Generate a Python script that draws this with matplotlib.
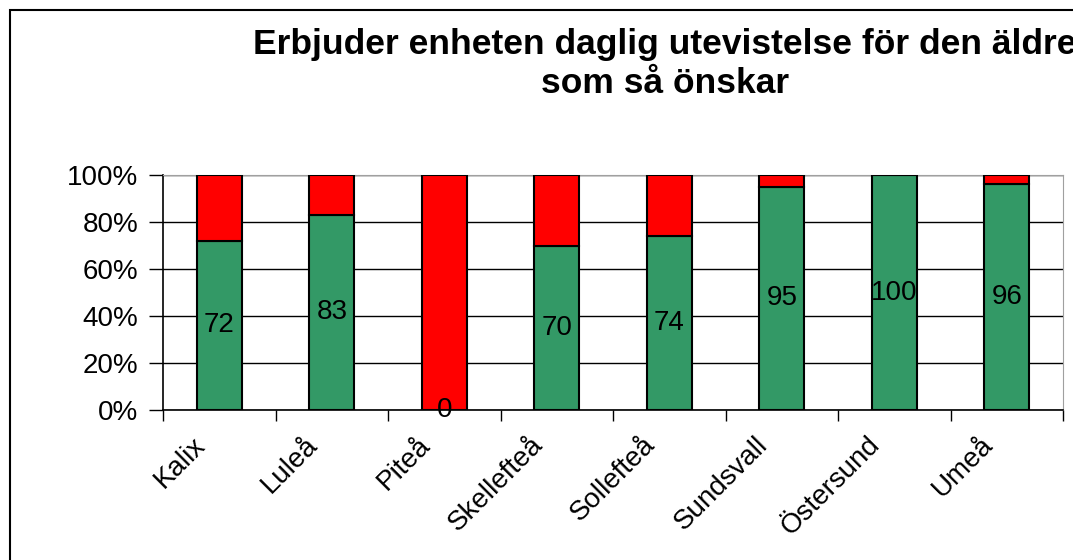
import numpy as np
import matplotlib.pyplot as plt
import matplotlib.transforms as mtransforms
from matplotlib.patches import Rectangle
from matplotlib.ticker import PercentFormatter

plt.rcParams["font.family"] = ["Liberation Sans", "DejaVu Sans"]

# Data
kommuner = ["Kalix", "Luleå", "Piteå", "Skellefteå", "Sollefteå",
            "Sundsvall", "Östersund", "Umeå"]
ja = [72, 83, 0, 70, 74, 95, 100, 96]
nej = [100 - v for v in ja]

green = "#339966"
red = "#FF0000"

fig = plt.figure(figsize=(10.73, 5.60), dpi=100)
ax = fig.add_axes([163 / 1073, 1 - 410 / 560, 900 / 1073, 235 / 560])

x = np.arange(len(kommuner))
ax.bar(x, ja, width=0.4, color=green, edgecolor="black", linewidth=1.5, zorder=3)
ax.bar(x, nej, width=0.4, bottom=ja, color=red, edgecolor="black",
       linewidth=1.5, zorder=3)

# value labels in middle of green segment
for xi, v in zip(x, ja):
    ax.text(xi, v / 2, str(v), ha="center", va="center", fontsize=20, zorder=4)

ax.set_xlim(-0.5, len(kommuner) - 0.5)
ax.set_ylim(0, 100)
ax.set_yticks(np.arange(0, 101, 20))
ax.yaxis.set_major_formatter(PercentFormatter(decimals=0))
ax.grid(axis="y", color="black", linewidth=1, zorder=0)

# category labels, rotated and nudged left like the original
ax.set_xticks(np.arange(-0.5, len(kommuner), 1))
ax.set_xticklabels([])
ax.tick_params(axis="x", length=8, width=1, direction="out")
shift = mtransforms.ScaledTranslation(-27 / 100, -22 / 100, fig.dpi_scale_trans)
for xi, name in zip(x, kommuner):
    ax.text(xi, 0, name, transform=ax.get_xaxis_transform() + shift,
            rotation=45, ha="right", va="top", rotation_mode="anchor",
            fontsize=20, clip_on=False)

ax.tick_params(axis="y", length=10, width=1, pad=8, labelsize=20)

ax.spines["top"].set_color("#a0a0a0")
ax.spines["right"].set_color("#a0a0a0")
ax.spines["left"].set_linewidth(1.2)
ax.spines["bottom"].set_linewidth(1.2)

fig.text(665 / 1073, 1 - 64 / 560,
         "Erbjuder enheten daglig utevistelse för den äldre\nsom så önskar",
         ha="center", va="center", fontsize=25.5, fontweight="bold",
         linespacing=1.25)

# outer frame of chart area
fig.patches.append(Rectangle((10 / 1073, -0.1), 1.2, 1.1 - 10 / 560,
                             transform=fig.transFigure, fill=False,
                             edgecolor="black", linewidth=1.5))

fig.savefig("out.png", dpi=100)
